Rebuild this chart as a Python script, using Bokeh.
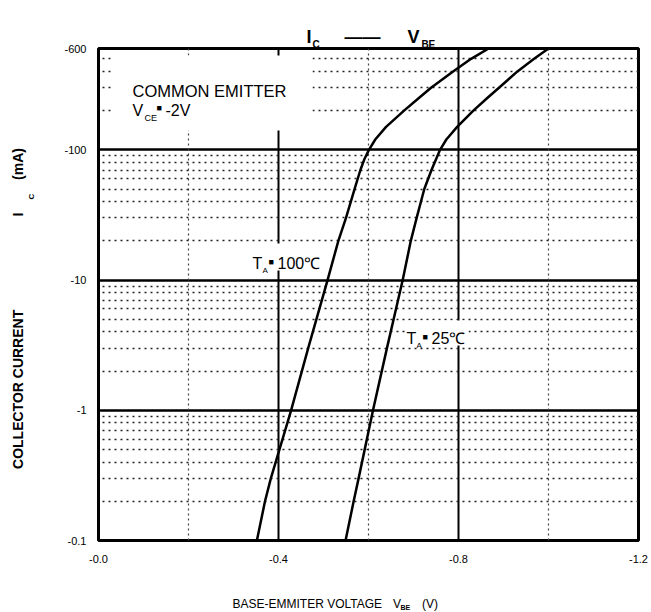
import math
from bokeh.plotting import figure
from bokeh.models import Range1d, FixedTicker, CustomJSTickFormatter, Grid, Label, BoxAnnotation
from bokeh.embed import file_html
from bokeh.resources import INLINE

# ---------------- data ----------------
ic_100c = [0.1, 0.2, 0.3, 1, 3, 10, 20, 30, 50, 70, 85, 100, 120, 150,
           200, 250, 300, 400, 500, 600]
vbe_100c = [-0.352, -0.370, -0.383, -0.428, -0.466, -0.509, -0.533, -0.550,
            -0.569, -0.582, -0.591, -0.601, -0.615, -0.639,
            -0.679, -0.712, -0.739, -0.788, -0.828, -0.867]
ic_25c = [0.1, 0.2, 0.3, 1, 3, 10, 20, 30, 50, 70, 100, 120, 150,
          200, 250, 300, 400, 500, 600]
vbe_25c = [-0.549, -0.567, -0.578, -0.610, -0.641, -0.676, -0.694, -0.707,
           -0.724, -0.740, -0.759, -0.773, -0.797,
           -0.833, -0.864, -0.890, -0.931, -0.968, -1.000]

x_ticks = [0, -0.4, -0.8, -1.2]
x_tick_labels = ["-0.0", "-0.4", "-0.8", "-1.2"]
y_ticks = [0.1, 1, 10, 100, 600]
y_tick_labels = ["-0.1", "-1", "-10", "-100", "-600"]

x_major_grid = [-0.4, -0.8]
x_minor_grid = [-0.2, -0.6, -1.0]
y_major_grid = [1, 10, 100]
y_minor_grid = [0.2, 0.3, 0.4, 0.5, 0.6, 0.7, 0.8, 0.9,
                2, 3, 4, 5, 6, 7, 8, 9,
                20, 30, 40, 50, 60, 70, 80, 90,
                200, 300, 400, 500]

# ---------------- layout ----------------
W, H = 651, 612
FL, FT, FW, FH = 98, 48, 540, 492
X0, X1 = 0.0, -1.2
Y0, Y1 = 0.1, 600.0

FONT = "Liberation Sans"

EM, EN, S3, S4, S6 = "\u2003", "\u2002", "\u2004", "\u2005", "\u2006"


def dx(px):
    return X0 + (px - FL) / FW * (X1 - X0)


def dy(py):
    lo, hi = math.log10(Y0), math.log10(Y1)
    return 10 ** (lo + (FT + FH - py) / FH * (hi - lo))


p = figure(width=W, height=H, output_backend="svg", toolbar_location=None,
           y_axis_type="log",
           x_range=Range1d(X0, X1), y_range=Range1d(Y0, Y1),
           min_border_left=FL, min_border_top=FT,
           min_border_right=W - FL - FW, min_border_bottom=H - FT - FH)

p.background_fill_color = "white"
p.border_fill_color = "white"
p.outline_line_color = "black"
p.outline_line_width = 3

fmt_code = """
const i = tv.findIndex(t => Math.abs(t - tick) < 1e-9 * Math.max(1, Math.abs(t)));
return i >= 0 ? tl[i] : '';
"""

xa = p.xaxis[0]
xa.ticker = FixedTicker(ticks=x_ticks)
xa.formatter = CustomJSTickFormatter(args=dict(tv=x_ticks, tl=x_tick_labels), code=fmt_code)
ya = p.yaxis[0]
ya.ticker = FixedTicker(ticks=y_ticks)
ya.formatter = CustomJSTickFormatter(args=dict(tv=y_ticks, tl=y_tick_labels), code=fmt_code)

for ax in (xa, ya):
    ax.axis_line_color = None
    ax.major_tick_line_color = None
    ax.minor_tick_line_color = None
    ax.major_label_text_font = FONT
    ax.major_label_text_font_size = "11px"
    ax.major_label_text_color = "black"
xa.major_label_standoff = 8
ya.major_label_standoff = 6

# y axis title (subscript added separately)
ya.axis_label = ("COLLECTOR CURRENT" + EM * 6 + EN + S6 + "I" + EM * 2 + S3 + "(mA)" + EM * 2)
ya.axis_label_text_font = FONT
ya.axis_label_text_font_style = "bold"
ya.axis_label_text_font_size = "14px"
ya.axis_label_text_color = "black"
ya.axis_label_standoff = 35

# grids
p.xgrid[0].ticker = FixedTicker(ticks=x_major_grid)
p.xgrid[0].grid_line_color = "black"
p.xgrid[0].grid_line_width = 2
p.ygrid[0].ticker = FixedTicker(ticks=y_major_grid)
p.ygrid[0].grid_line_color = "black"
p.ygrid[0].grid_line_width = 2.5

p.add_layout(Grid(dimension=0, ticker=FixedTicker(ticks=x_minor_grid),
                  grid_line_color="#444444", grid_line_width=1.2, grid_line_dash="2 3"))
p.add_layout(Grid(dimension=1, ticker=FixedTicker(ticks=y_minor_grid),
                  grid_line_color="#222222", grid_line_width=1.5, grid_line_dash="2 4"))

# curves
p.line(vbe_100c, ic_100c, line_color="black", line_width=2.5, line_join="round")
p.line(vbe_25c, ic_25c, line_color="black", line_width=2.5, line_join="round")


def wbox(px0, px1, py0, py1):
    p.add_layout(BoxAnnotation(left=dx(px0), right=dx(px1), top=dy(py0), bottom=dy(py1),
                               fill_color="white", fill_alpha=1.0, line_color=None))


def lab(text, px, py, size, bold=False, angle=0.0, font=FONT, place=None):
    lb = Label(x=dx(px), y=dy(py), text=text, text_font=font,
               text_font_size=f"{size}px",
               text_font_style="bold" if bold else "normal",
               text_baseline="alphabetic", text_align="left",
               angle=angle, text_color="black")
    if place is None:
        p.add_layout(lb)
    else:
        p.add_layout(lb, place)


# white areas behind in-plot notes
wbox(112, 312, 55, 130)
wbox(250, 322, 243, 270)
wbox(405, 468, 320, 345)

# in-plot notes
lab("COMMON EMITTER", 132, 90, 16.5)
lab("V", 132, 110, 16)
lab("CE", 144, 117, 9)
lab("\u25a0", 156, 107, 9)
lab("-2V", 165, 110, 16)

lab("T", 252, 263, 16)
lab("A", 262, 270, 8)
lab("\u25a0", 268, 261, 9)
lab("100\u2103", 277, 263, 16)

lab("T", 406, 338, 16)
lab("A", 416, 345, 8)
lab("\u25a0", 422, 336, 9)
lab("25\u2103", 431, 338, 16)

# title (in the top side panel so it is not clipped)
lab("I" + EM + EN + S3 + "\u2014\u2014" + EM + EN + "V", 306, 36, 18, bold=True, place="above")
lab("C" + EM * 10 + S6 + "BE", 312, 44, 10, bold=True, place="above")
# subscript of the y axis title
lab("C", 31, 199, 8, bold=True, angle=math.pi / 2, place="above")

# x axis title
lab("BASE-EMMITER VOLTAGE" + EN + S4 + S6 + "V" + EM + EN + S4 + "(V)", 232, 603, 12,
    place="below")
lab("BE", 400, 607, 7, bold=True, place="below")

open("out.html", "w").write(file_html(p, INLINE))
